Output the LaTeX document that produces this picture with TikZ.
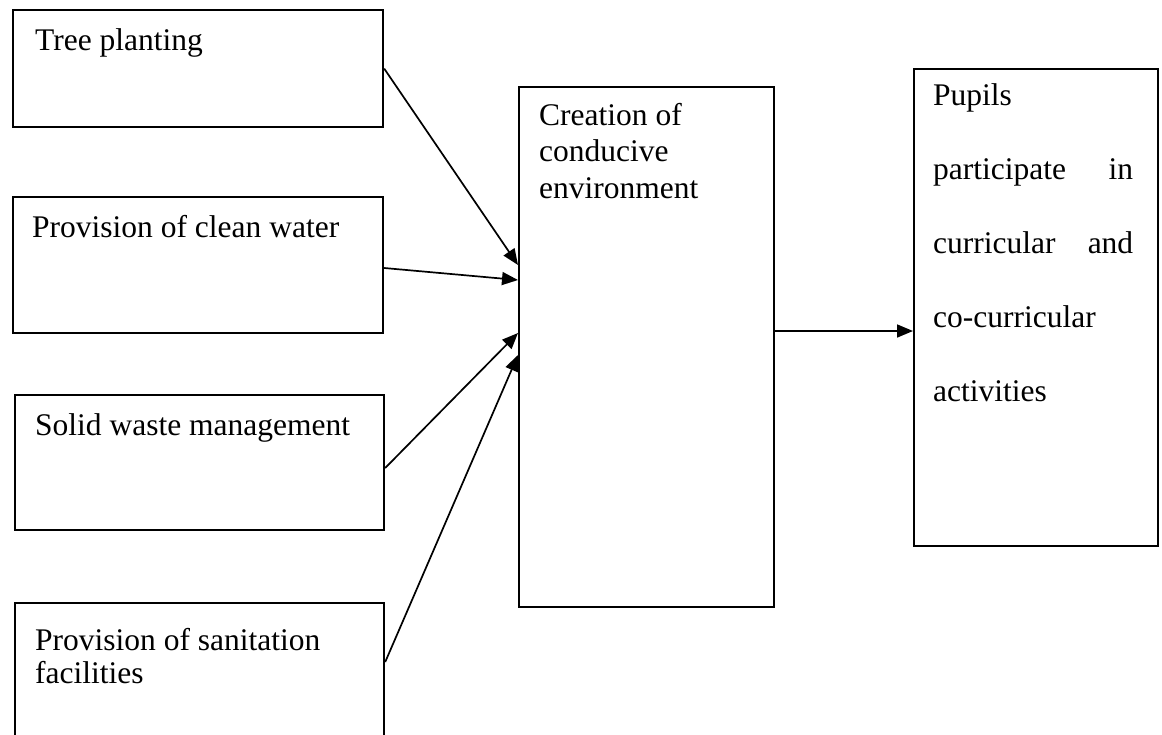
\documentclass[tikz,border=0pt]{standalone}
\usepackage{fontspec}
\setmainfont{Liberation Serif}
\usetikzlibrary{arrows.meta,calc}
\begin{document}
\begin{tikzpicture}[x=1pt,y=-1pt,
  box/.style={draw,line width=2.2pt,rectangle,inner sep=0pt,anchor=north west},
  lbl/.style={anchor=base west,inner sep=0pt,font=\fontsize{31.5}{33}\selectfont},
  arr/.style={line width=1.7pt,-{Triangle[length=16pt,width=13pt]}}]
\useasboundingbox (0,0) rectangle (1162,734);
\clip (0,0) rectangle (1162,734);
\node[box,minimum width=370pt,minimum height=117pt] (tree) at (12,9) {};
\node[box,minimum width=370pt,minimum height=136pt] (water) at (12,196) {};
\node[box,minimum width=369pt,minimum height=135pt] (solid) at (14,394) {};
\node[box,minimum width=369pt,minimum height=150pt] (san) at (14,602) {};
\node[box,minimum width=255pt,minimum height=520pt] (centre) at (518,86) {};
\node[box,minimum width=244pt,minimum height=477pt] (pupils) at (913,68) {};
\node[lbl] (t1) at (35,50) {Tree planting};
\node[lbl] (t2) at (32,237) {Provision of clean water};
\node[lbl] (t3) at (35,435) {Solid waste management};
\node[lbl] (t4) at (35,650) {\parbox[t]{340pt}{\fontsize{31.5}{33}\selectfont Provision of sanitation\\facilities}};
\node[lbl] (t5) at (539,125) {\parbox[t]{230pt}{\fontsize{31.5}{36.5}\selectfont Creation of\\conducive\\environment}};
\node[lbl] (t6) at (933,105) {\parbox[t]{200pt}{\fontsize{31.5}{74.2}\selectfont Pupils\\\makebox[200pt][s]{participate\hfill in}\\\makebox[200pt][s]{curricular\hfill and}\\co-curricular\\activities}};
\coordinate (a1s) at (tree.east);
\coordinate (a1e) at ($(centre.north west)+(0,179)$);
\coordinate (a2s) at ($(water.north east)+(0,72)$);
\coordinate (a2e) at ($(centre.north west)+(0,194)$);
\coordinate (a3s) at ($(solid.north east)+(0,74)$);
\coordinate (a3e) at ($(centre.north west)+(0,247)$);
\coordinate (a4s) at ($(san.north east)+(0,60)$);
\coordinate (a4e) at ($(centre.north west)+(0,269)$);
\coordinate (a5s) at ($(centre.north east)+(0,245)$);
\coordinate (a5e) at ($(pupils.north west)+(0,263)$);
\draw[arr] (a1s) -- (a1e);
\draw[arr] (a2s) -- (a2e);
\draw[arr] (a3s) -- (a3e);
\draw[arr] (a4s) -- (a4e);
\draw[arr] (a5s) -- (a5e);
\end{tikzpicture}
\end{document}
